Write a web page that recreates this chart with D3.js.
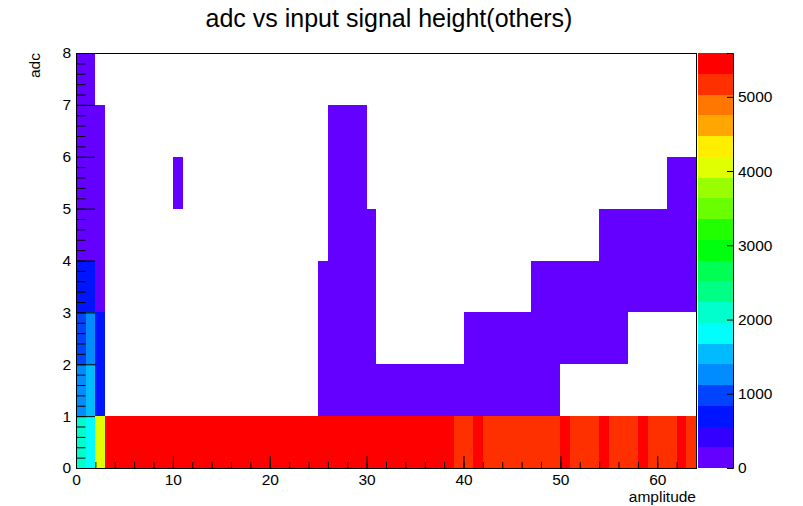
<!DOCTYPE html>
<html>
<head>
<meta charset="utf-8">
<script src="https://cdn.jsdelivr.net/npm/d3@7"></script>
<style>
  body { margin: 0; background: #fff; }
  text { font-family: "Liberation Sans", Arial, Helvetica, sans-serif; fill: #000; }
</style>
</head>
<body>
<script>
// histogram: 64 bins in amplitude (0..64), 8 bins in adc (0..8)
var xEdges = [0, 64], nx = 64;
var yEdges = [0, 8], ny = 8;
var xTickLabels = [0, 10, 20, 30, 40, 50, 60];
var yTickLabels = [0, 1, 2, 3, 4, 5, 6, 7, 8];
var zTickLabels = [0, 1000, 2000, 3000, 4000, 5000];
var nContours = 20;

// counts per adc row, index = amplitude bin
var row0 = [2100,1800,4000,5590,5480,5470,5460,5450,5450,5440,5460,5450,5450,5440,5450,5430,5450,5440,5450,5460,
            5440,5450,5430,5440,5450,5440,5430,5450,5440,5430,5420,5430,5440,5420,5430,5420,5410,5420,5400,5200,
            5180,5350,5200,5190,5200,5180,5190,5200,5170,5180,5340,5180,5190,5170,5330,5180,5170,5160,5340,5170,
            5160,5170,5330,5160];
var row1 = [1250,1500,700,0,0,0,0,0,0,0,0,0,0,0,0,0,0,0,0,0,
            0,0,0,0,0,40,60,60,60,60,50,40,40,40,40,40,40,40,40,40,
            40,40,40,40,40,40,40,40,40,40,0,0,0,0,0,0,0,0,0,0,
            0,0,0,0];
var row2 = [900,1250,700,0,0,0,0,0,0,0,0,0,0,0,0,0,0,0,0,0,
            0,0,0,0,0,40,60,60,60,60,50,0,0,0,0,0,0,0,0,0,
            40,40,40,40,40,40,40,40,40,40,40,40,40,40,40,40,40,0,0,0,
            0,0,0,0];
var row3 = [700,700,60,0,0,0,0,0,0,0,0,0,0,0,0,0,0,0,0,0,
            0,0,0,0,0,40,60,60,60,60,50,0,0,0,0,0,0,0,0,0,
            0,0,0,0,0,0,0,40,40,40,40,40,40,40,40,40,40,40,40,40,
            40,40,40,40];
var row4 = [60,60,60,0,0,0,0,0,0,0,0,0,0,0,0,0,0,0,0,0,
            0,0,0,0,0,0,60,60,60,60,50,0,0,0,0,0,0,0,0,0,
            0,0,0,0,0,0,0,0,0,0,0,0,0,0,40,40,40,40,40,40,
            40,40,40,40];
var row5 = [50,50,50,0,0,0,0,0,0,0,20,0,0,0,0,0,0,0,0,0,
            0,0,0,0,0,0,50,50,50,50,0,0,0,0,0,0,0,0,0,0,
            0,0,0,0,0,0,0,0,0,0,0,0,0,0,0,0,0,0,0,0,
            0,30,30,30];
var row6 = [40,40,40,0,0,0,0,0,0,0,0,0,0,0,0,0,0,0,0,0,
            0,0,0,0,0,0,30,30,30,30,0,0,0,0,0,0,0,0,0,0,
            0,0,0,0,0,0,0,0,0,0,0,0,0,0,0,0,0,0,0,0,
            0,0,0,0];
var row7 = [30,30,0,0,0,0,0,0,0,0,0,0,0,0,0,0,0,0,0,0,
            0,0,0,0,0,0,0,0,0,0,0,0,0,0,0,0,0,0,0,0,
            0,0,0,0,0,0,0,0,0,0,0,0,0,0,0,0,0,0,0,0,
            0,0,0,0];
var rows = [row0, row1, row2, row3, row4, row5, row6, row7];

var W = 803, H = 506;
var frame = {left: 76, right: 696, top: 53, bottom: 468};
var pal = {left: 698, right: 733};

var svg = d3.select("body").append("svg")
    .attr("width", W).attr("height", H);

var x = d3.scaleLinear().domain(xEdges).range([frame.left, frame.right]);
var y = d3.scaleLinear().domain(yEdges).range([frame.bottom, frame.top]);

var zmax = d3.max(rows, function(r) { return d3.max(r); });
var z = d3.scaleLinear().domain([0, zmax]).range([frame.bottom, frame.top]);

// ROOT "pretty palette": 50 hues violet->red, picked for 20 contours
function contourColor(k) {
  var idx = Math.floor((k + 0.99) * 50 / nContours);
  var hue = 280 - (idx + 1) * (280 / 50);
  return d3.hsl(hue, 1, 0.5).formatHex();
}
function binColor(v) {
  var k = Math.floor(v / zmax * nContours);
  if (k > nContours - 1) k = nContours - 1;
  return contourColor(k);
}

// flatten the non-empty cells
var cells = [];
rows.forEach(function(r, j) {
  r.forEach(function(v, i) {
    if (v > 0) cells.push({i: i, j: j, v: v});
  });
});

var binW = (xEdges[1] - xEdges[0]) / nx, binH = (yEdges[1] - yEdges[0]) / ny;

svg.append("g").selectAll("rect")
    .data(cells)
  .enter().append("rect")
    .attr("x", function(d) { return x(d.i * binW); })
    .attr("y", function(d) { return y((d.j + 1) * binH); })
    .attr("width", function(d) { return x((d.i + 1) * binW) - x(d.i * binW); })
    .attr("height", function(d) { return y(d.j * binH) - y((d.j + 1) * binH); })
    .attr("fill", function(d) { return binColor(d.v); })
    .attr("shape-rendering", "crispEdges");

// frame
svg.append("rect")
    .attr("x", frame.left + 0.5).attr("y", frame.top + 0.5)
    .attr("width", frame.right - frame.left).attr("height", frame.bottom - frame.top)
    .attr("fill", "none").attr("stroke", "#000");

// x axis: minor + major ticks pointing inward
var fs = "15.5px";
var xMinor = d3.axisBottom(x).tickValues(d3.range(0, 65, 2)).tickSize(-6).tickFormat("");
var xMajor = d3.axisBottom(x).tickValues(xTickLabels).tickSize(-12).tickPadding(6).tickFormat(d3.format("d"));
[xMinor, xMajor].forEach(function(ax) {
  var g = svg.append("g").attr("transform", "translate(0," + frame.bottom + ")").call(ax);
  g.select(".domain").remove();
  g.selectAll("text").style("font-size", fs).attr("fill", "#000");
});

var yMinor = d3.axisLeft(y).tickValues(d3.range(0, 8.01, 0.2)).tickSize(-9.5).tickFormat("");
var yMajor = d3.axisLeft(y).tickValues(yTickLabels).tickSize(-19).tickPadding(5).tickFormat(d3.format("d"));
[yMinor, yMajor].forEach(function(ax) {
  var g = svg.append("g").attr("transform", "translate(" + frame.left + ",0)").call(ax);
  g.select(".domain").remove();
  g.selectAll("text").style("font-size", fs).attr("fill", "#000");
});

// palette
var bands = d3.range(nContours);
svg.append("g").selectAll("rect")
    .data(bands)
  .enter().append("rect")
    .attr("x", pal.left)
    .attr("y", function(k) { return z((k + 1) * zmax / nContours); })
    .attr("width", pal.right - pal.left)
    .attr("height", function(k) { return z(k * zmax / nContours) - z((k + 1) * zmax / nContours); })
    .attr("fill", function(k) { return contourColor(k); })
    .attr("shape-rendering", "crispEdges");

var zAxis = d3.axisRight(z).tickValues(zTickLabels).tickSize(-6).tickPadding(5).tickFormat(d3.format("d"));
var gz = svg.append("g").attr("transform", "translate(" + pal.right + ",0)").call(zAxis);
gz.select(".domain").attr("stroke", "#000");
gz.selectAll("text").style("font-size", fs).attr("fill", "#000");

// titles
svg.append("text")
    .attr("x", 389).attr("y", 27)
    .attr("text-anchor", "middle")
    .style("font-size", "25px")
    .text("adc vs input signal height(others)");

svg.append("text")
    .attr("x", frame.right).attr("y", 502)
    .attr("text-anchor", "end")
    .style("font-size", "15.5px")
    .text("amplitude");

svg.append("text")
    .attr("transform", "translate(40," + frame.top + ") rotate(-90)")
    .attr("text-anchor", "end")
    .style("font-size", "15.5px")
    .text("adc");
</script>
</body>
</html>
